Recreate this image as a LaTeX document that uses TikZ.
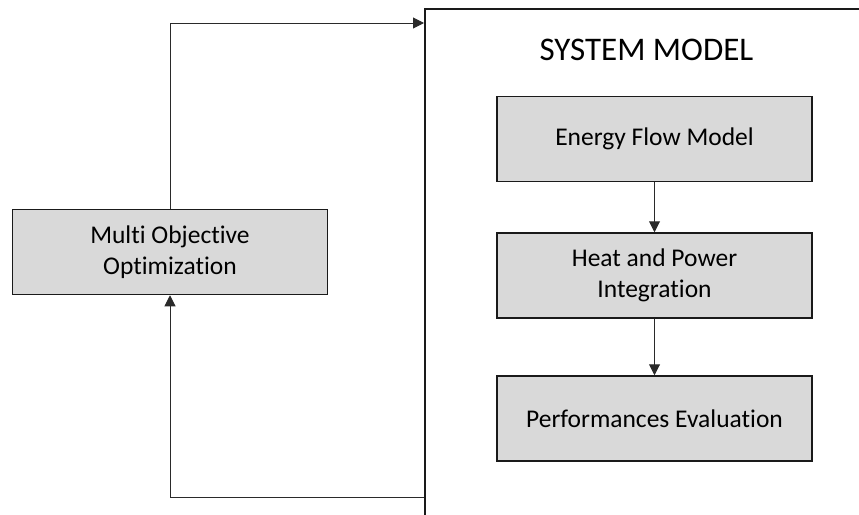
\documentclass[tikz,border=0pt]{standalone}
\usepackage{fontspec}
\setmainfont[Ligatures=NoCommon]{Carlito}
\usetikzlibrary{arrows.meta}
\definecolor{boxfill}{HTML}{D9D9D9}
\definecolor{edge}{HTML}{1A1A1A}
\definecolor{wire}{HTML}{2A2A2A}
\begin{document}
\begin{tikzpicture}[x=1pt,y=-1pt,
  box/.style={draw=edge, line width=1.5pt, fill=boxfill, minimum width=315pt, minimum height=85pt, align=center, font=\fontsize{25.5}{31}\selectfont, inner sep=0pt},
  conn/.style={draw=wire, line width=1pt},
  tip/.style={-{Triangle[length=11pt,width=11pt]}}]
\useasboundingbox (0,0) rectangle (859,514);
\clip (0,0) rectangle (859,514);
\node[draw=edge, line width=1.5pt, minimum width=500pt, minimum height=560pt, anchor=north west, inner sep=0pt] (sys) at (424,8) {};
\node[font=\fontsize{33}{40}\selectfont, anchor=base] (title) at (646.5,60) {SYSTEM MODEL};
\node[box] (efm) at (654.5,139) {Energy Flow Model};
\node[box] (hpi) at (654.5,275.5) {Heat and Power\\Integration};
\node[box] (pe) at (654.5,418.5) {Performances Evaluation};
\node[box] (moo) at (170,252) {Multi Objective\\Optimization};
\coordinate (in) at (424,23);
\coordinate (out) at (424,497);
\draw[conn,tip] (efm) -- (hpi);
\draw[conn,tip] (hpi) -- (pe);
\draw[conn,tip] (moo.north) |- (in);
\draw[conn,tip] (out) -| (moo.south);
\end{tikzpicture}
\end{document}
